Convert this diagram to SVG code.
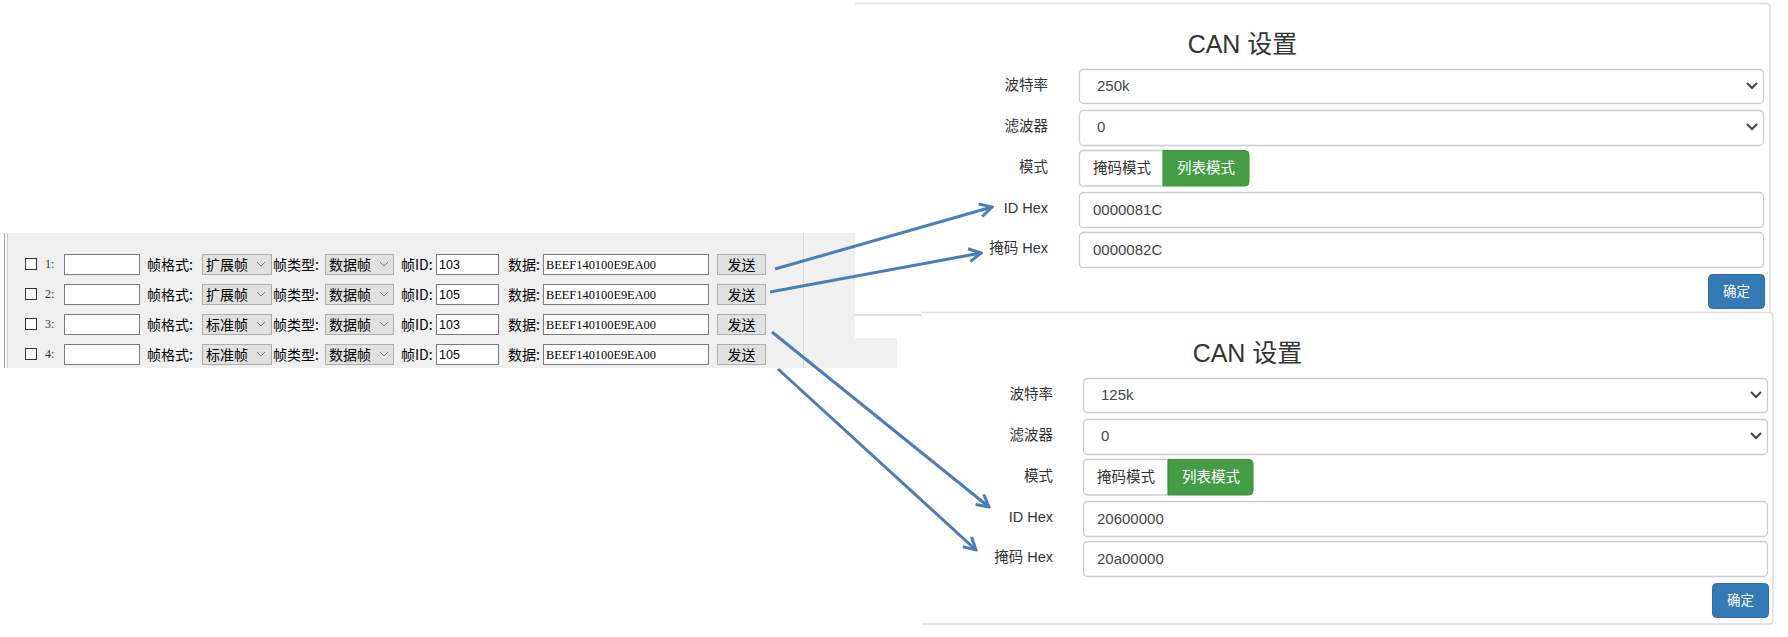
<svg xmlns="http://www.w3.org/2000/svg" width="1788" height="637" viewBox="0 0 1788 637">
<style>
.lbl{font-family:"Liberation Sans","Noto Sans CJK SC",sans-serif;font-size:14.5px;fill:#333;text-anchor:end;}
.val{font-family:"Liberation Sans","Noto Sans CJK SC",sans-serif;font-size:15px;fill:#444;}
.title{font-family:"Liberation Sans","Noto Sans CJK SC",sans-serif;font-size:25px;fill:#333;text-anchor:middle;}
.inp{fill:#fff;stroke:#ccc;stroke-width:1.3;}
.chev{fill:none;stroke:#444;stroke-width:2;}
.btnw{fill:#fff;stroke:#ccc;stroke-width:1.3;}
.btng{fill:#449d44;stroke:#3f903f;stroke-width:1;}
.btnb{fill:#337ab7;stroke:#2e6da4;stroke-width:1;}
.wtxt{font-family:"Noto Sans CJK SC","Liberation Sans",sans-serif;font-size:14.5px;fill:#fff;}
.btxt{font-family:"Noto Sans CJK SC","Liberation Sans",sans-serif;font-size:14.5px;fill:#333;}
.panel{fill:none;stroke:#ddd;stroke-width:1.5;}
.w{font-family:"Noto Sans CJK SC","Liberation Serif",serif;font-size:14px;fill:#000;}
.num{font-family:"Liberation Serif",serif;font-size:12px;fill:#333;}
.box{fill:#fff;stroke:#7a7a7a;stroke-width:1;}
.cb{fill:#fff;stroke:#333;stroke-width:1;}
.combo{fill:#e1e1e1;stroke:#adadad;stroke-width:1;}
.sc{fill:none;stroke:#777;stroke-width:1;}
.idt{font-family:"Liberation Sans",sans-serif;font-size:12.5px;fill:#000;}
.dat{font-family:"Liberation Serif",serif;font-size:13px;fill:#000;}
.arrow{fill:none;stroke:#4a7ebb;stroke-width:3;}
</style>
<defs>
<marker id="ah" viewBox="0 0 16 16" refX="14" refY="8" markerWidth="16" markerHeight="16" markerUnits="userSpaceOnUse" orient="auto">
<path d="M2,1.5 L14,8 L2,14.5" fill="none" stroke="#4a7ebb" stroke-width="3" stroke-linejoin="miter"/>
</marker>
</defs>
<rect width="1788" height="637" fill="#fff"/>

<g id="send-panel">
<path d="M8,233 H855 V338 H897 V368 H8 Z" fill="#f0f0f0"/>
<line x1="4.5" y1="233" x2="4.5" y2="368" stroke="#a0a0a0" stroke-width="1"/>
<line x1="7.5" y1="233" x2="7.5" y2="368" stroke="#c8c8c8" stroke-width="1"/>
<line x1="803.5" y1="233" x2="803.5" y2="368" stroke="#d8d8d8" stroke-width="1"/>

<g id="row1">
<rect class="cb" x="25.5" y="258.5" width="11" height="11"/>
<text class="num" x="45" y="268">1:</text>
<rect class="box" x="64.5" y="254.5" width="75" height="20"/>
<text class="w" x="147" y="269.5">帧格式:</text>
<rect class="combo" x="202.5" y="254.5" width="69" height="20"/>
<text class="w" x="206" y="269.5">扩展帧</text>
<polyline class="sc" points="257,262 261,266 265,262"/>
<text class="w" x="273" y="269.5">帧类型:</text>
<rect class="combo" x="325.5" y="254.5" width="68" height="20"/>
<text class="w" x="329" y="269.5">数据帧</text>
<polyline class="sc" points="380,262 384,266 388,262"/>
<text class="w" x="401" y="269.5">帧ID:</text>
<rect class="box" x="436.5" y="254.5" width="62" height="20"/>
<text class="idt" x="439" y="269">103</text>
<text class="w" x="508" y="269.5">数据:</text>
<rect class="box" x="543.5" y="254.5" width="165" height="20"/>
<text class="dat" x="546" y="269" textLength="110" lengthAdjust="spacingAndGlyphs">BEEF140100E9EA00</text>
<rect class="combo" x="717.5" y="254.5" width="48" height="20"/>
<text class="w" x="741.5" y="269.5" text-anchor="middle">发送</text>
</g>

<g id="row2">
<rect class="cb" x="25.5" y="288.5" width="11" height="11"/>
<text class="num" x="45" y="298">2:</text>
<rect class="box" x="64.5" y="284.5" width="75" height="20"/>
<text class="w" x="147" y="299.5">帧格式:</text>
<rect class="combo" x="202.5" y="284.5" width="69" height="20"/>
<text class="w" x="206" y="299.5">扩展帧</text>
<polyline class="sc" points="257,292 261,296 265,292"/>
<text class="w" x="273" y="299.5">帧类型:</text>
<rect class="combo" x="325.5" y="284.5" width="68" height="20"/>
<text class="w" x="329" y="299.5">数据帧</text>
<polyline class="sc" points="380,292 384,296 388,292"/>
<text class="w" x="401" y="299.5">帧ID:</text>
<rect class="box" x="436.5" y="284.5" width="62" height="20"/>
<text class="idt" x="439" y="299">105</text>
<text class="w" x="508" y="299.5">数据:</text>
<rect class="box" x="543.5" y="284.5" width="165" height="20"/>
<text class="dat" x="546" y="299" textLength="110" lengthAdjust="spacingAndGlyphs">BEEF140100E9EA00</text>
<rect class="combo" x="717.5" y="284.5" width="48" height="20"/>
<text class="w" x="741.5" y="299.5" text-anchor="middle">发送</text>
</g>

<g id="row3">
<rect class="cb" x="25.5" y="318.5" width="11" height="11"/>
<text class="num" x="45" y="328">3:</text>
<rect class="box" x="64.5" y="314.5" width="75" height="20"/>
<text class="w" x="147" y="329.5">帧格式:</text>
<rect class="combo" x="202.5" y="314.5" width="69" height="20"/>
<text class="w" x="206" y="329.5">标准帧</text>
<polyline class="sc" points="257,322 261,326 265,322"/>
<text class="w" x="273" y="329.5">帧类型:</text>
<rect class="combo" x="325.5" y="314.5" width="68" height="20"/>
<text class="w" x="329" y="329.5">数据帧</text>
<polyline class="sc" points="380,322 384,326 388,322"/>
<text class="w" x="401" y="329.5">帧ID:</text>
<rect class="box" x="436.5" y="314.5" width="62" height="20"/>
<text class="idt" x="439" y="329">103</text>
<text class="w" x="508" y="329.5">数据:</text>
<rect class="box" x="543.5" y="314.5" width="165" height="20"/>
<text class="dat" x="546" y="329" textLength="110" lengthAdjust="spacingAndGlyphs">BEEF140100E9EA00</text>
<rect class="combo" x="717.5" y="314.5" width="48" height="20"/>
<text class="w" x="741.5" y="329.5" text-anchor="middle">发送</text>
</g>

<g id="row4">
<rect class="cb" x="25.5" y="348.5" width="11" height="11"/>
<text class="num" x="45" y="358">4:</text>
<rect class="box" x="64.5" y="344.5" width="75" height="20"/>
<text class="w" x="147" y="359.5">帧格式:</text>
<rect class="combo" x="202.5" y="344.5" width="69" height="20"/>
<text class="w" x="206" y="359.5">标准帧</text>
<polyline class="sc" points="257,352 261,356 265,352"/>
<text class="w" x="273" y="359.5">帧类型:</text>
<rect class="combo" x="325.5" y="344.5" width="68" height="20"/>
<text class="w" x="329" y="359.5">数据帧</text>
<polyline class="sc" points="380,352 384,356 388,352"/>
<text class="w" x="401" y="359.5">帧ID:</text>
<rect class="box" x="436.5" y="344.5" width="62" height="20"/>
<text class="idt" x="439" y="359">105</text>
<text class="w" x="508" y="359.5">数据:</text>
<rect class="box" x="543.5" y="344.5" width="165" height="20"/>
<text class="dat" x="546" y="359" textLength="110" lengthAdjust="spacingAndGlyphs">BEEF140100E9EA00</text>
<rect class="combo" x="717.5" y="344.5" width="48" height="20"/>
<text class="w" x="741.5" y="359.5" text-anchor="middle">发送</text>
</g>
</g>

<g id="can-panel-1">
<path class="panel" d="M855,3.5 H1766 Q1770,3.5 1770,7.5 V311 Q1770,315 1766,315 H855"/>
<text class="title" x="1242.5" y="53">CAN 设置</text>
<text class="lbl" x="1048" y="90">波特率</text>
<text class="lbl" x="1048" y="131">滤波器</text>
<text class="lbl" x="1048" y="172">模式</text>
<text class="lbl" x="1048" y="213">ID Hex</text>
<text class="lbl" x="1048" y="253">掩码 Hex</text>
<rect class="inp" x="1079.5" y="69.5" width="684" height="34" rx="4"/>
<text class="val" x="1097" y="91">250k</text>
<polyline class="chev" points="1747,83 1752,88 1757,83"/>
<rect class="inp" x="1079.5" y="110.5" width="684" height="35" rx="4"/>
<text class="val" x="1097" y="132">0</text>
<polyline class="chev" points="1747,124 1752,129 1757,124"/>
<path class="btnw" d="M1163,150.5 H1083.5 Q1079.5,150.5 1079.5,154.5 V182 Q1079.5,186 1083.5,186 H1163 Z"/>
<path class="btng" d="M1163,150.5 H1245 Q1249,150.5 1249,154.5 V182 Q1249,186 1245,186 H1163 Z"/>
<text class="btxt" x="1093" y="173">掩码模式</text>
<text class="wtxt" x="1177" y="173">列表模式</text>
<rect class="inp" x="1079.5" y="192.5" width="684" height="35" rx="4"/>
<text class="val" x="1093" y="215">0000081C</text>
<rect class="inp" x="1079.5" y="232.5" width="684" height="35" rx="4"/>
<text class="val" x="1093" y="255">0000082C</text>
<rect class="btnb" x="1708.5" y="274.5" width="56" height="34" rx="4"/>
<text class="wtxt" x="1736.5" y="296" text-anchor="middle" style="font-size:13.5px">确定</text>
</g>

<g id="can-panel-2">
<path d="M922,312.5 H1769 Q1773,312.5 1773,316.5 V620 Q1773,624 1769,624 H922 Z" fill="#fff"/>
<path class="panel" d="M922,312.5 H1769 Q1773,312.5 1773,316.5 V620 Q1773,624 1769,624 H922"/>
<line x1="855" y1="315" x2="922" y2="315" stroke="#ddd" stroke-width="1.5"/>
<text class="title" x="1247.5" y="362">CAN 设置</text>
<g transform="translate(4,309)">
<text class="lbl" x="1049" y="90">波特率</text>
<text class="lbl" x="1049" y="131">滤波器</text>
<text class="lbl" x="1049" y="172">模式</text>
<text class="lbl" x="1049" y="213">ID Hex</text>
<text class="lbl" x="1049" y="253">掩码 Hex</text>
<rect class="inp" x="1079.5" y="69.5" width="684" height="34" rx="4"/>
<text class="val" x="1097" y="91">125k</text>
<polyline class="chev" points="1747,83 1752,88 1757,83"/>
<rect class="inp" x="1079.5" y="110.5" width="684" height="35" rx="4"/>
<text class="val" x="1097" y="132">0</text>
<polyline class="chev" points="1747,124 1752,129 1757,124"/>
<path class="btnw" d="M1164,150.5 H1083.5 Q1079.5,150.5 1079.5,154.5 V182 Q1079.5,186 1083.5,186 H1164 Z"/>
<path class="btng" d="M1164,150.5 H1245 Q1249,150.5 1249,154.5 V182 Q1249,186 1245,186 H1164 Z"/>
<text class="btxt" x="1093" y="173">掩码模式</text>
<text class="wtxt" x="1178" y="173">列表模式</text>
<rect class="inp" x="1079.5" y="192.5" width="684" height="35" rx="4"/>
<text class="val" x="1093" y="215">20600000</text>
<rect class="inp" x="1079.5" y="232.5" width="684" height="35" rx="4"/>
<text class="val" x="1093" y="255">20a00000</text>
<rect class="btnb" x="1708.5" y="274.5" width="56" height="34" rx="4"/>
<text class="wtxt" x="1736.5" y="296" text-anchor="middle" style="font-size:13.5px">确定</text>
</g>
</g>

<g id="connectors">
<line class="arrow" x1="775" y1="269" x2="992" y2="207" marker-end="url(#ah)"/>
<line class="arrow" x1="770" y1="292" x2="981" y2="253" marker-end="url(#ah)"/>
<line class="arrow" x1="772" y1="332" x2="989" y2="507" marker-end="url(#ah)"/>
<line class="arrow" x1="778" y1="369" x2="976" y2="550" marker-end="url(#ah)"/>
</g>
</svg>
